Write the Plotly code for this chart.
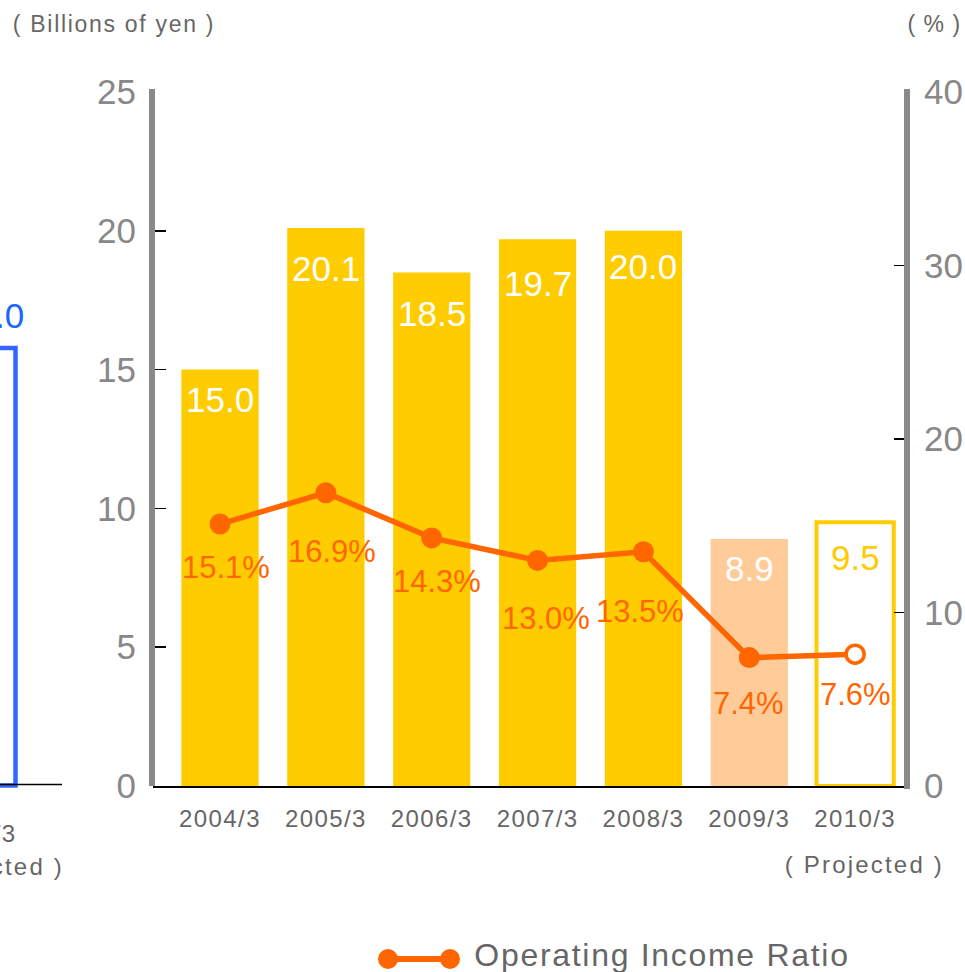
import plotly.graph_objects as go

# ---------------- data ----------------
categories = ["2004/3", "2005/3", "2006/3", "2007/3", "2008/3", "2009/3", "2010/3"]
operating_income = [15.0, 20.1, 18.5, 19.7, 20.0, 8.9, 9.5]      # billions of yen
operating_ratio = [15.1, 16.9, 14.3, 13.0, 13.5, 7.4, 7.6]        # %
left_ticks = [0, 5, 10, 15, 20, 25]
right_ticks = [0, 10, 20, 30, 40]

# ---------------- styling ----------------
W, H = 965, 972
FONT = "Liberation Sans, Arial, Helvetica, sans-serif"
GOLD = "#FFCC00"
PEACH = "#FFCC99"
ORANGE = "#FF6600"
BLUE = "#3366FF"
AXGRAY = "#8a8a8a"
TXTGRAY = "#666666"
TICKGRAY = "#888888"


def px(x):
    return x / W


def py(y):
    return 1 - y / H


n = len(categories)
xs = list(range(n))
bar_colors = [GOLD] * 5 + [PEACH, "white"]
bar_line_w = [0] * 6 + [4]
bar_label_colors = ["white"] * 6 + [GOLD]
bar_label_drop = [30, 40, 41, 44, 36, 30, 35]
pct_label_drop = [43, 59, 44, 58, 60, 46, 40]
pct_label_dx = [6, 6, 5, 8, -3, -1, 0]

fig = go.Figure()

fig.add_trace(go.Bar(
    x=xs, y=operating_income, width=0.73,
    marker=dict(color=bar_colors, line=dict(color=GOLD, width=bar_line_w)),
    hoverinfo="skip",
))

fig.add_trace(go.Scatter(
    x=xs, y=operating_ratio, yaxis="y2", mode="lines+markers",
    line=dict(color=ORANGE, width=5.5),
    marker=dict(size=[21] * 6 + [18], color=[ORANGE] * 6 + ["white"], opacity=1,
                line=dict(color=ORANGE, width=[0] * 6 + [3.5])),
    hoverinfo="skip", cliponaxis=False,
))

annotations = []
for i, v in enumerate(operating_income):
    annotations.append(dict(
        x=xs[i], y=v, xref="x", yref="y", text=f"{v:.1f}", showarrow=False,
        yshift=-bar_label_drop[i], yanchor="middle",
        font=dict(family=FONT, size=35, color=bar_label_colors[i]),
    ))
for i, v in enumerate(operating_ratio):
    annotations.append(dict(
        x=xs[i], y=v, xref="x", yref="y2", text=f"{v:.1f}%", showarrow=False,
        yshift=-pct_label_drop[i], xshift=pct_label_dx[i], yanchor="middle",
        font=dict(family=FONT, size=31, color=ORANGE),
    ))

# unit captions and notes
annotations += [
    dict(x=px(114), y=py(24), xref="paper", yref="paper", text="( Billions of yen )",
         showarrow=False, xanchor="center", yanchor="middle",
         font=dict(family=FONT, size=23, color=TXTGRAY)),
    dict(x=px(934), y=py(24), xref="paper", yref="paper", text="( % )",
         showarrow=False, xanchor="center", yanchor="middle",
         font=dict(family=FONT, size=23, color=TXTGRAY)),
    dict(x=px(864), y=py(864), xref="paper", yref="paper", text="( Projected )",
         showarrow=False, xanchor="center", yanchor="middle",
         font=dict(family=FONT, size=24, color=TXTGRAY)),
    # legend text
    dict(x=px(662), y=py(955), xref="paper", yref="paper", text="Operating Income Ratio",
         showarrow=False, xanchor="center", yanchor="middle",
         font=dict(family=FONT, size=32, color=TXTGRAY)),
    # cropped neighbouring chart at the left edge
    dict(x=px(26), y=py(315), xref="paper", yref="paper", text="16.0",
         showarrow=False, xanchor="right", yanchor="middle",
         font=dict(family=FONT, size=35, color="#1a66ff")),
    dict(x=px(-25), y=py(833), xref="paper", yref="paper", text="2010/3",
         showarrow=False, xanchor="center", yanchor="middle",
         font=dict(family=FONT, size=24, color=TXTGRAY)),
    dict(x=px(-16), y=py(866), xref="paper", yref="paper", text="( Projected )",
         showarrow=False, xanchor="center", yanchor="middle",
         font=dict(family=FONT, size=24, color=TXTGRAY)),
]

shapes = [
    # thick gray axis lines
    dict(type="line", xref="paper", yref="paper", x0=px(152), x1=px(152),
         y0=py(786), y1=py(89), line=dict(color=AXGRAY, width=6), layer="above"),
    dict(type="line", xref="paper", yref="paper", x0=px(907), x1=px(907),
         y0=py(789), y1=py(89), line=dict(color=AXGRAY, width=6), layer="above"),
    # legend symbol
    dict(type="line", xref="paper", yref="paper", x0=px(388), x1=px(450),
         y0=py(959), y1=py(959), line=dict(color=ORANGE, width=6)),
    dict(type="circle", xref="paper", yref="paper", x0=px(378), x1=px(398),
         y0=py(969), y1=py(949), fillcolor=ORANGE, line=dict(width=0)),
    dict(type="circle", xref="paper", yref="paper", x0=px(440), x1=px(460),
         y0=py(969), y1=py(949), fillcolor=ORANGE, line=dict(width=0)),
    # cropped neighbouring chart
    dict(type="rect", xref="paper", yref="paper", x0=px(-60), x1=px(15.5),
         y0=py(785.5), y1=py(348), line=dict(color=BLUE, width=4.5)),
    dict(type="line", xref="paper", yref="paper", x0=0, x1=px(62),
         y0=py(784.5), y1=py(784.5), line=dict(color="black", width=1.5)),
]

fig.update_layout(
    width=W, height=H, autosize=False,
    margin=dict(l=0, r=0, t=0, b=0, pad=0, autoexpand=False),
    paper_bgcolor="white", plot_bgcolor="white",
    showlegend=False, bargap=0,
    font=dict(family=FONT),
    xaxis=dict(
        domain=[px(153), px(907)], range=[-0.633, 6.49], automargin=False,
        tickmode="array", tickvals=xs, ticktext=categories,
        showline=True, linecolor="black", linewidth=1.5,
        ticks="", showgrid=False, zeroline=False, fixedrange=True,
        tickfont=dict(family=FONT, size=24, color=TXTGRAY),
        ticklabelstandoff=11,
    ),
    yaxis=dict(
        domain=[py(786), py(92)], range=[0, 25], automargin=False,
        tickmode="array", tickvals=left_ticks,
        ticks="inside", ticklen=13, tickwidth=1.5, tickcolor="black",
        showline=False, showgrid=False, zeroline=False, fixedrange=True,
        tickfont=dict(family=FONT, size=35, color=TICKGRAY),
        ticklabelstandoff=16,
    ),
    yaxis2=dict(
        overlaying="y", side="right", anchor="x", range=[0, 40], automargin=False,
        tickmode="array", tickvals=right_ticks,
        ticks="inside", ticklen=13, tickwidth=1.5, tickcolor="black",
        showline=False, showgrid=False, zeroline=False, fixedrange=True,
        tickfont=dict(family=FONT, size=35, color=TICKGRAY),
        ticklabelstandoff=16,
    ),
    annotations=annotations,
    shapes=shapes,
)

spacing_js = r"""
var gd = document.getElementById('{plot_id}');
function applySpacing(){
  var rules = [
    [/^\d{4}\/3$/, '1.4px'],
    [/Projected/, '2.2px'],
    [/Billions/, '1.7px'],
    [/^\( % \)$/, '1px'],
    [/Operating/, '1.7px']
  ];
  gd.querySelectorAll('text').forEach(function(t){
    var s = t.textContent;
    for (var i = 0; i < rules.length; i++) {
      if (rules[i][0].test(s)) { t.style.letterSpacing = rules[i][1]; break; }
    }
  });
}
applySpacing();
gd.on('plotly_afterplot', applySpacing);
"""

fig.write_html("out.html", config={"displayModeBar": False, "staticPlot": True},
               post_script=spacing_js)
